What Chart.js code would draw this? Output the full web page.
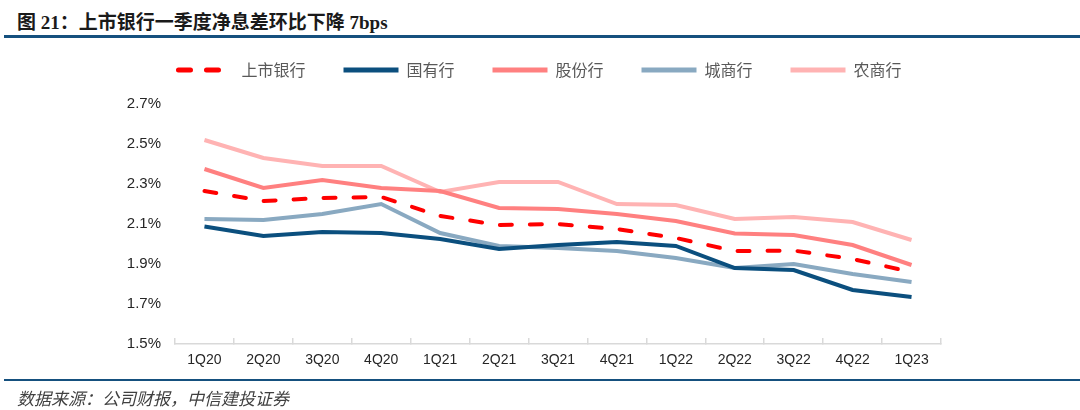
<!DOCTYPE html>
<html>
<head>
<meta charset="utf-8">
<script src="https://cdn.jsdelivr.net/npm/chart.js@4/dist/chart.umd.min.js"></script>
<style>
  html,body{margin:0;padding:0;background:#fff;}
  #wrap{position:relative;width:1080px;height:410px;overflow:hidden;}
  #title{position:absolute;left:17px;top:7px;font-family:"Liberation Serif","Noto Sans CJK SC",serif;font-weight:bold;font-size:19px;color:#1a1a1a;white-space:nowrap;}
  #topline{position:absolute;left:4px;right:0;top:35px;height:3px;background:#15507E;}
  #botline{position:absolute;left:4px;right:0;top:379px;height:2px;background:#15507E;}
  #source{position:absolute;left:17px;top:385px;font-family:"Noto Sans CJK SC",sans-serif;font-style:italic;font-size:17px;color:#404040;white-space:nowrap;}
  canvas{position:absolute;left:0;top:0;}
</style>
</head>
<body>
<div id="wrap">
  <div id="title">图 21：上市银行一季度净息差环比下降 7bps</div>
  <div id="topline"></div>
  <canvas id="c" width="1080" height="410"></canvas>
  <div id="botline"></div>
  <div id="source">数据来源：公司财报，中信建投证券</div>
</div>
<script>
const categories = ['1Q20','2Q20','3Q20','4Q20','1Q21','2Q21','3Q21','4Q21','1Q22','2Q22','3Q22','4Q22','1Q23'];
const listedBanks = [2.265, 2.215, 2.23, 2.235, 2.14, 2.095, 2.10, 2.075, 2.03, 1.965, 1.967, 1.925, 1.86];
const stateBanks  = [2.087, 2.04, 2.06, 2.055, 2.025, 1.975, 1.995, 2.01, 1.99, 1.88, 1.87, 1.77, 1.735];
const jointBanks  = [2.375, 2.28, 2.32, 2.28, 2.265, 2.18, 2.175, 2.15, 2.115, 2.053, 2.045, 1.995, 1.895];
const cityBanks   = [2.125, 2.12, 2.15, 2.20, 2.055, 1.99, 1.98, 1.965, 1.93, 1.88, 1.90, 1.85, 1.81];
const ruralBanks  = [2.52, 2.43, 2.39, 2.39, 2.26, 2.31, 2.31, 2.20, 2.195, 2.125, 2.135, 2.11, 2.02];
const seriesNames = ['上市银行','国有行','股份行','城商行','农商行'];
const yTicks = [1.5, 1.7, 1.9, 2.1, 2.3, 2.5, 2.7];

const legendFix = {
  id: 'legendFix',
  beforeInit(chart) {
    const origFit = chart.legend.fit;
    chart.legend.fit = function() { origFit.call(this); this.height = 80; };
  },
  afterLayout(chart) {
    const lg = chart.legend;
    lg.left = 0; lg.right = 1080; lg.width = 1080;
  }
};

function ds(label, data, color, dash) {
  return {
    label, data,
    borderColor: color, backgroundColor: color,
    borderWidth: 4,
    borderDash: dash || [],
    borderCapStyle: dash ? 'round' : 'butt',
    borderJoinStyle: 'miter',
    pointRadius: 0, pointHoverRadius: 0,
    pointStyle: 'line',
    tension: 0, fill: false
  };
}

new Chart(document.getElementById('c'), {
  type: 'line',
  data: {
    labels: categories,
    datasets: [
      ds(seriesNames[0], listedBanks, '#FF0000', [12, 18]),
      ds(seriesNames[1], stateBanks, '#0B4F7E'),
      ds(seriesNames[2], jointBanks, '#FF8080'),
      ds(seriesNames[3], cityBanks, '#89A9C1'),
      ds(seriesNames[4], ruralBanks, '#FFB3B3')
    ]
  },
  options: {
    responsive: false,
    animation: false,
    devicePixelRatio: 1,
    layout: { padding: { top: 24, left: 115, right: 139, bottom: 36 } },
    plugins: {
      legend: {
        position: 'top',
        labels: {
          usePointStyle: true,
          pointStyleWidth: 55,
          padding: 38,
          color: '#595959',
          font: { family: '"Noto Sans CJK SC", sans-serif', size: 16 },
          generateLabels(chart) {
            return chart.data.datasets.map((d, i) => ({
              text: d.label,
              datasetIndex: i,
              fillStyle: d.borderColor,
              strokeStyle: d.borderColor,
              lineWidth: 5,
              lineDash: d.borderDash && d.borderDash.length ? [12, 16] : [],
              lineCap: d.borderDash && d.borderDash.length ? 'round' : 'butt',
              pointStyle: 'line',
              fontColor: '#595959',
              hidden: false
            }));
          }
        }
      },
      tooltip: { enabled: false }
    },
    scales: {
      x: {
        offset: true,
        grid: { display: true, offset: true, drawOnChartArea: false, drawTicks: true, tickLength: -6, color: '#D9D9D9', lineWidth: 1.5 },
        border: { display: true, color: '#D9D9D9', width: 1.5 },
        ticks: { color: '#262626', padding: 14, maxRotation: 0, font: { family: '"Liberation Sans", Arial, sans-serif', size: 14 } },
        afterFit(s) { s.height = 30; }
      },
      y: {
        min: 1.5, max: 2.7,
        afterBuildTicks(s) { s.ticks = yTicks.map(v => ({ value: v })); },
        grid: { display: false, drawTicks: false },
        border: { display: false },
        ticks: {
          color: '#262626', padding: 14,
          font: { family: '"Liberation Sans", Arial, sans-serif', size: 15 },
          callback: v => v.toFixed(1) + '%'
        },
        afterFit(s) { s.width = 60; }
      }
    }
  },
  plugins: [legendFix]
});
</script>
</body>
</html>
